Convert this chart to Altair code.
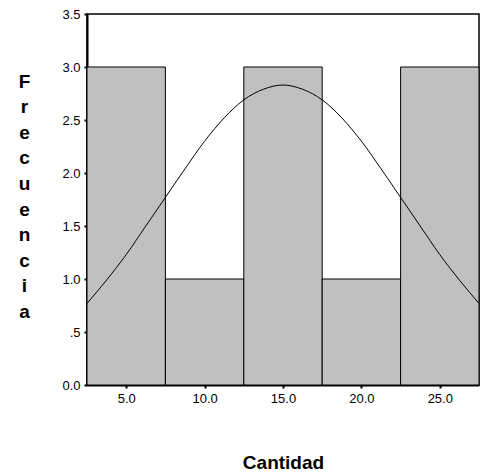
import altair as alt
import pandas as pd

# Histogram data
bin_centers = [5.0, 10.0, 15.0, 20.0, 25.0]
counts = [3, 1, 3, 1, 3]
bin_width = 5.0

# Normal curve points
curve_x = [2.5, 3.75, 5.0, 6.25, 7.5, 8.75, 10.0, 11.25, 12.5, 13.75, 15.0,
           16.25, 17.5, 18.75, 20.0, 21.25, 22.5, 23.75, 25.0, 26.25, 27.5]
curve_y = [0.77, 0.99, 1.23, 1.50, 1.77, 2.04, 2.30, 2.52, 2.69, 2.79, 2.83,
           2.79, 2.69, 2.52, 2.30, 2.04, 1.77, 1.50, 1.23, 0.99, 0.77]

x_ticks = [5, 10, 15, 20, 25]
y_ticks = [0, 0.5, 1.0, 1.5, 2.0, 2.5, 3.0, 3.5]

bars = pd.DataFrame({
    "start": [c - bin_width / 2 for c in bin_centers],
    "end": [c + bin_width / 2 for c in bin_centers],
    "count": counts,
})
curve = pd.DataFrame({"x": curve_x, "y": curve_y})

FONT = "Liberation Sans"

x_scale = alt.Scale(domain=[2.5, 27.5], nice=False, zero=False)
y_scale = alt.Scale(domain=[0, 3.5], nice=False)

x_axis = alt.Axis(
    title="Cantidad", values=x_ticks, format=".1f", grid=False,
    domainColor="black", domainWidth=2, tickColor="black", tickWidth=2, tickSize=3,
    labelFont=FONT, labelFontSize=13, labelColor="black", labelPadding=4,
    titleFont=FONT, titleFontSize=19, titleFontWeight="bold", titleColor="black",
    titleY=83, titleBaseline="alphabetic",
)
y_axis = alt.Axis(
    title=list("Frecuencia"), values=y_ticks, grid=False,
    labelExpr="datum.value == 0.5 ? '.5' : format(datum.value, '.1f')",
    domainColor="black", domainWidth=2, tickColor="black", tickWidth=2, tickSize=3,
    labelFont=FONT, labelFontSize=13, labelColor="black", labelPadding=4,
    titleFont=FONT, titleFontSize=19, titleFontWeight="bold", titleColor="black",
    titleAngle=0, titleAlign="center", titleBaseline="alphabetic",
    titleLineHeight=25.6, titleX=-63, titleY=73,
)

hist = alt.Chart(bars).mark_rect(
    fill="#c0c0c0", stroke="black", strokeWidth=1
).encode(
    x=alt.X("start:Q", scale=x_scale, axis=x_axis),
    x2="end:Q",
    y=alt.Y("count:Q", scale=y_scale, axis=y_axis),
    y2=alt.datum(0),
)

line = alt.Chart(curve).mark_line(
    color="black", strokeWidth=1, interpolate="monotone"
).encode(
    x=alt.X("x:Q", scale=x_scale),
    y=alt.Y("y:Q", scale=y_scale),
)

chart = alt.layer(hist, line).properties(
    width=392, height=371,
    background="white",
    autosize=alt.AutoSizeParams(type="none"),
    padding={"left": 79, "top": 6, "right": 1, "bottom": 86},
).configure_view(
    stroke="black", strokeWidth=1.5
)

chart.save("out.html", embed_options={"renderer": "svg", "actions": False})
